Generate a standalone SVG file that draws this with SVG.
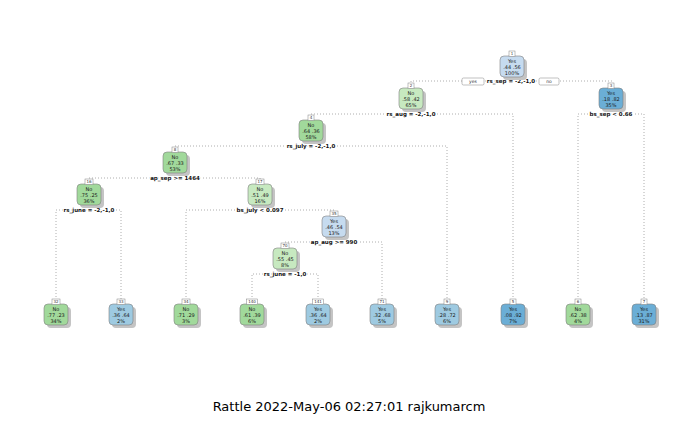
<svg xmlns="http://www.w3.org/2000/svg" width="700" height="432" viewBox="0 0 700 432">
<style>
.bg{fill:#ffffff}
.con{fill:none;stroke:#9a9a9a;stroke-width:0.8;stroke-dasharray:1 2}
.shadow{fill:#c4c4c4}
.box{stroke:#808080;stroke-width:0.6}
.g1{fill:#A1D99B}.g0{fill:#C7E9C0}.b0{fill:#C6DBEF}.b1{fill:#9ECAE1}.b2{fill:#6BAED6}
.t{font-family:"DejaVu Sans","Liberation Sans",sans-serif;font-size:5px;fill:#1a1a1a;text-anchor:middle}
.num{fill:#ffffff;stroke:#808080;stroke-width:0.5}
.nt{font-family:"DejaVu Sans","Liberation Sans",sans-serif;font-size:4px;fill:#333;text-anchor:middle}
.split{font-family:"DejaVu Sans","Liberation Sans",sans-serif;font-size:5.5px;font-weight:bold;fill:#111;text-anchor:middle;stroke:#fff;stroke-width:2.5;paint-order:stroke}
.yn{fill:#fff;stroke:#808080;stroke-width:0.5}
.ynt{font-family:"DejaVu Sans","Liberation Sans",sans-serif;font-size:4.5px;fill:#333;text-anchor:middle}
.title{font-family:"DejaVu Sans","Liberation Sans",sans-serif;font-size:13px;fill:#000;text-anchor:middle}
</style>
<rect class="bg" x="0" y="0" width="700" height="432"/>
<g id="connectors">
<path class="con" d="M411 85V81H612V85"/>
<path class="con" d="M311 117V114H513V300"/>
<path class="con" d="M578 300V114H644V300"/>
<path class="con" d="M175 149V146H447V300"/>
<path class="con" d="M89 181V178H260V181"/>
<path class="con" d="M56 300V210H121V300"/>
<path class="con" d="M186 300V210H334V213"/>
<path class="con" d="M285 245V242H382V300"/>
<path class="con" d="M252 300V274H318V300"/>
</g>
<g id="splits">
<rect class="yn" x="462" y="78" width="22" height="7" rx="1.5"/>
<text class="ynt" x="473" y="83.2">yes</text>
<rect class="yn" x="539" y="78" width="20" height="7" rx="1.5"/>
<text class="ynt" x="549" y="83.2">no</text>
<text class="split" x="511" y="83">rs_sep = -2,-1,0</text>
<text class="split" x="411" y="116">rs_aug = -2,-1,0</text>
<text class="split" x="611" y="116">bs_sep &lt; 0.66</text>
<text class="split" x="311" y="148">rs_july = -2,-1,0</text>
<text class="split" x="175" y="179.5">ap_sep &gt;= 1464</text>
<text class="split" x="89" y="212">rs_june = -2,-1,0</text>
<text class="split" x="260" y="212">bs_july &lt; 0.097</text>
<text class="split" x="334" y="244">ap_aug &gt;= 990</text>
<text class="split" x="285" y="276">rs_june = -1,0</text>
</g>
<g id="n1" transform="translate(512,56)"><rect class="shadow" x="-9" y="3" width="24" height="21" rx="4"/><rect class="box b0" x="-12" y="0" width="24" height="21" rx="4"/><rect class="num" x="-3" y="-5" width="6" height="5.5"/><text class="nt" x="0" y="-0.8">1</text><text class="t" x="0" y="6.5">Yes</text><text class="t" x="0" y="12.5">.44  .56</text><text class="t" x="0" y="18.5">100%</text></g>
<g id="n2" transform="translate(411,88)"><rect class="shadow" x="-9" y="3" width="24" height="21" rx="4"/><rect class="box g0" x="-12" y="0" width="24" height="21" rx="4"/><rect class="num" x="-3" y="-5" width="6" height="5.5"/><text class="nt" x="0" y="-0.8">2</text><text class="t" x="0" y="6.5">No</text><text class="t" x="0" y="12.5">.58  .42</text><text class="t" x="0" y="18.5">65%</text></g>
<g id="n3" transform="translate(611,88)"><rect class="shadow" x="-9" y="3" width="24" height="21" rx="4"/><rect class="box b2" x="-12" y="0" width="24" height="21" rx="4"/><rect class="num" x="-3" y="-5" width="6" height="5.5"/><text class="nt" x="0" y="-0.8">3</text><text class="t" x="0" y="6.5">Yes</text><text class="t" x="0" y="12.5">.18  .82</text><text class="t" x="0" y="18.5">35%</text></g>
<g id="n4" transform="translate(311,120)"><rect class="shadow" x="-9" y="3" width="24" height="21" rx="4"/><rect class="box g1" x="-12" y="0" width="24" height="21" rx="4"/><rect class="num" x="-3" y="-5" width="6" height="5.5"/><text class="nt" x="0" y="-0.8">4</text><text class="t" x="0" y="6.5">No</text><text class="t" x="0" y="12.5">.64  .36</text><text class="t" x="0" y="18.5">58%</text></g>
<g id="n8" transform="translate(175,152)"><rect class="shadow" x="-9" y="3" width="24" height="21" rx="4"/><rect class="box g1" x="-12" y="0" width="24" height="21" rx="4"/><rect class="num" x="-3" y="-5" width="6" height="5.5"/><text class="nt" x="0" y="-0.8">8</text><text class="t" x="0" y="6.5">No</text><text class="t" x="0" y="12.5">.67  .33</text><text class="t" x="0" y="18.5">53%</text></g>
<g id="n16" transform="translate(89,184)"><rect class="shadow" x="-9" y="3" width="24" height="21" rx="4"/><rect class="box g1" x="-12" y="0" width="24" height="21" rx="4"/><rect class="num" x="-4" y="-5" width="8" height="5.5"/><text class="nt" x="0" y="-0.8">16</text><text class="t" x="0" y="6.5">No</text><text class="t" x="0" y="12.5">.75  .25</text><text class="t" x="0" y="18.5">36%</text></g>
<g id="n17" transform="translate(260,184)"><rect class="shadow" x="-9" y="3" width="24" height="21" rx="4"/><rect class="box g0" x="-12" y="0" width="24" height="21" rx="4"/><rect class="num" x="-4" y="-5" width="8" height="5.5"/><text class="nt" x="0" y="-0.8">17</text><text class="t" x="0" y="6.5">No</text><text class="t" x="0" y="12.5">.51  .49</text><text class="t" x="0" y="18.5">16%</text></g>
<g id="n35" transform="translate(334,216)"><rect class="shadow" x="-9" y="3" width="24" height="21" rx="4"/><rect class="box b0" x="-12" y="0" width="24" height="21" rx="4"/><rect class="num" x="-4" y="-5" width="8" height="5.5"/><text class="nt" x="0" y="-0.8">35</text><text class="t" x="0" y="6.5">Yes</text><text class="t" x="0" y="12.5">.46  .54</text><text class="t" x="0" y="18.5">13%</text></g>
<g id="n70" transform="translate(285,248)"><rect class="shadow" x="-9" y="3" width="24" height="21" rx="4"/><rect class="box g0" x="-12" y="0" width="24" height="21" rx="4"/><rect class="num" x="-4" y="-5" width="8" height="5.5"/><text class="nt" x="0" y="-0.8">70</text><text class="t" x="0" y="6.5">No</text><text class="t" x="0" y="12.5">.55  .45</text><text class="t" x="0" y="18.5">8%</text></g>
<g id="n32" transform="translate(56,304)"><rect class="shadow" x="-9" y="3" width="24" height="21" rx="4"/><rect class="box g1" x="-12" y="0" width="24" height="21" rx="4"/><rect class="num" x="-4" y="-5" width="8" height="5.5"/><text class="nt" x="0" y="-0.8">32</text><text class="t" x="0" y="6.5">No</text><text class="t" x="0" y="12.5">.77  .23</text><text class="t" x="0" y="18.5">34%</text></g>
<g id="n33" transform="translate(121,304)"><rect class="shadow" x="-9" y="3" width="24" height="21" rx="4"/><rect class="box b1" x="-12" y="0" width="24" height="21" rx="4"/><rect class="num" x="-4" y="-5" width="8" height="5.5"/><text class="nt" x="0" y="-0.8">33</text><text class="t" x="0" y="6.5">Yes</text><text class="t" x="0" y="12.5">.36  .64</text><text class="t" x="0" y="18.5">2%</text></g>
<g id="n34" transform="translate(186,304)"><rect class="shadow" x="-9" y="3" width="24" height="21" rx="4"/><rect class="box g1" x="-12" y="0" width="24" height="21" rx="4"/><rect class="num" x="-4" y="-5" width="8" height="5.5"/><text class="nt" x="0" y="-0.8">34</text><text class="t" x="0" y="6.5">No</text><text class="t" x="0" y="12.5">.71  .29</text><text class="t" x="0" y="18.5">3%</text></g>
<g id="n140" transform="translate(252,304)"><rect class="shadow" x="-9" y="3" width="24" height="21" rx="4"/><rect class="box g1" x="-12" y="0" width="24" height="21" rx="4"/><rect class="num" x="-5.5" y="-5" width="11" height="5.5"/><text class="nt" x="0" y="-0.8">140</text><text class="t" x="0" y="6.5">No</text><text class="t" x="0" y="12.5">.61  .39</text><text class="t" x="0" y="18.5">6%</text></g>
<g id="n141" transform="translate(318,304)"><rect class="shadow" x="-9" y="3" width="24" height="21" rx="4"/><rect class="box b1" x="-12" y="0" width="24" height="21" rx="4"/><rect class="num" x="-5.5" y="-5" width="11" height="5.5"/><text class="nt" x="0" y="-0.8">141</text><text class="t" x="0" y="6.5">Yes</text><text class="t" x="0" y="12.5">.36  .64</text><text class="t" x="0" y="18.5">2%</text></g>
<g id="n71" transform="translate(382,304)"><rect class="shadow" x="-9" y="3" width="24" height="21" rx="4"/><rect class="box b1" x="-12" y="0" width="24" height="21" rx="4"/><rect class="num" x="-4" y="-5" width="8" height="5.5"/><text class="nt" x="0" y="-0.8">71</text><text class="t" x="0" y="6.5">Yes</text><text class="t" x="0" y="12.5">.32  .68</text><text class="t" x="0" y="18.5">5%</text></g>
<g id="n9" transform="translate(447,304)"><rect class="shadow" x="-9" y="3" width="24" height="21" rx="4"/><rect class="box b1" x="-12" y="0" width="24" height="21" rx="4"/><rect class="num" x="-3" y="-5" width="6" height="5.5"/><text class="nt" x="0" y="-0.8">9</text><text class="t" x="0" y="6.5">Yes</text><text class="t" x="0" y="12.5">.28  .72</text><text class="t" x="0" y="18.5">6%</text></g>
<g id="n5" transform="translate(513,304)"><rect class="shadow" x="-9" y="3" width="24" height="21" rx="4"/><rect class="box b2" x="-12" y="0" width="24" height="21" rx="4"/><rect class="num" x="-3" y="-5" width="6" height="5.5"/><text class="nt" x="0" y="-0.8">5</text><text class="t" x="0" y="6.5">Yes</text><text class="t" x="0" y="12.5">.08  .92</text><text class="t" x="0" y="18.5">7%</text></g>
<g id="n6" transform="translate(578,304)"><rect class="shadow" x="-9" y="3" width="24" height="21" rx="4"/><rect class="box g1" x="-12" y="0" width="24" height="21" rx="4"/><rect class="num" x="-3" y="-5" width="6" height="5.5"/><text class="nt" x="0" y="-0.8">6</text><text class="t" x="0" y="6.5">No</text><text class="t" x="0" y="12.5">.62  .38</text><text class="t" x="0" y="18.5">4%</text></g>
<g id="n7" transform="translate(644,304)"><rect class="shadow" x="-9" y="3" width="24" height="21" rx="4"/><rect class="box b2" x="-12" y="0" width="24" height="21" rx="4"/><rect class="num" x="-3" y="-5" width="6" height="5.5"/><text class="nt" x="0" y="-0.8">7</text><text class="t" x="0" y="6.5">Yes</text><text class="t" x="0" y="12.5">.13  .87</text><text class="t" x="0" y="18.5">31%</text></g>
<text class="title" x="349" y="411">Rattle 2022-May-06 02:27:01 rajkumarcm</text>
</svg>
